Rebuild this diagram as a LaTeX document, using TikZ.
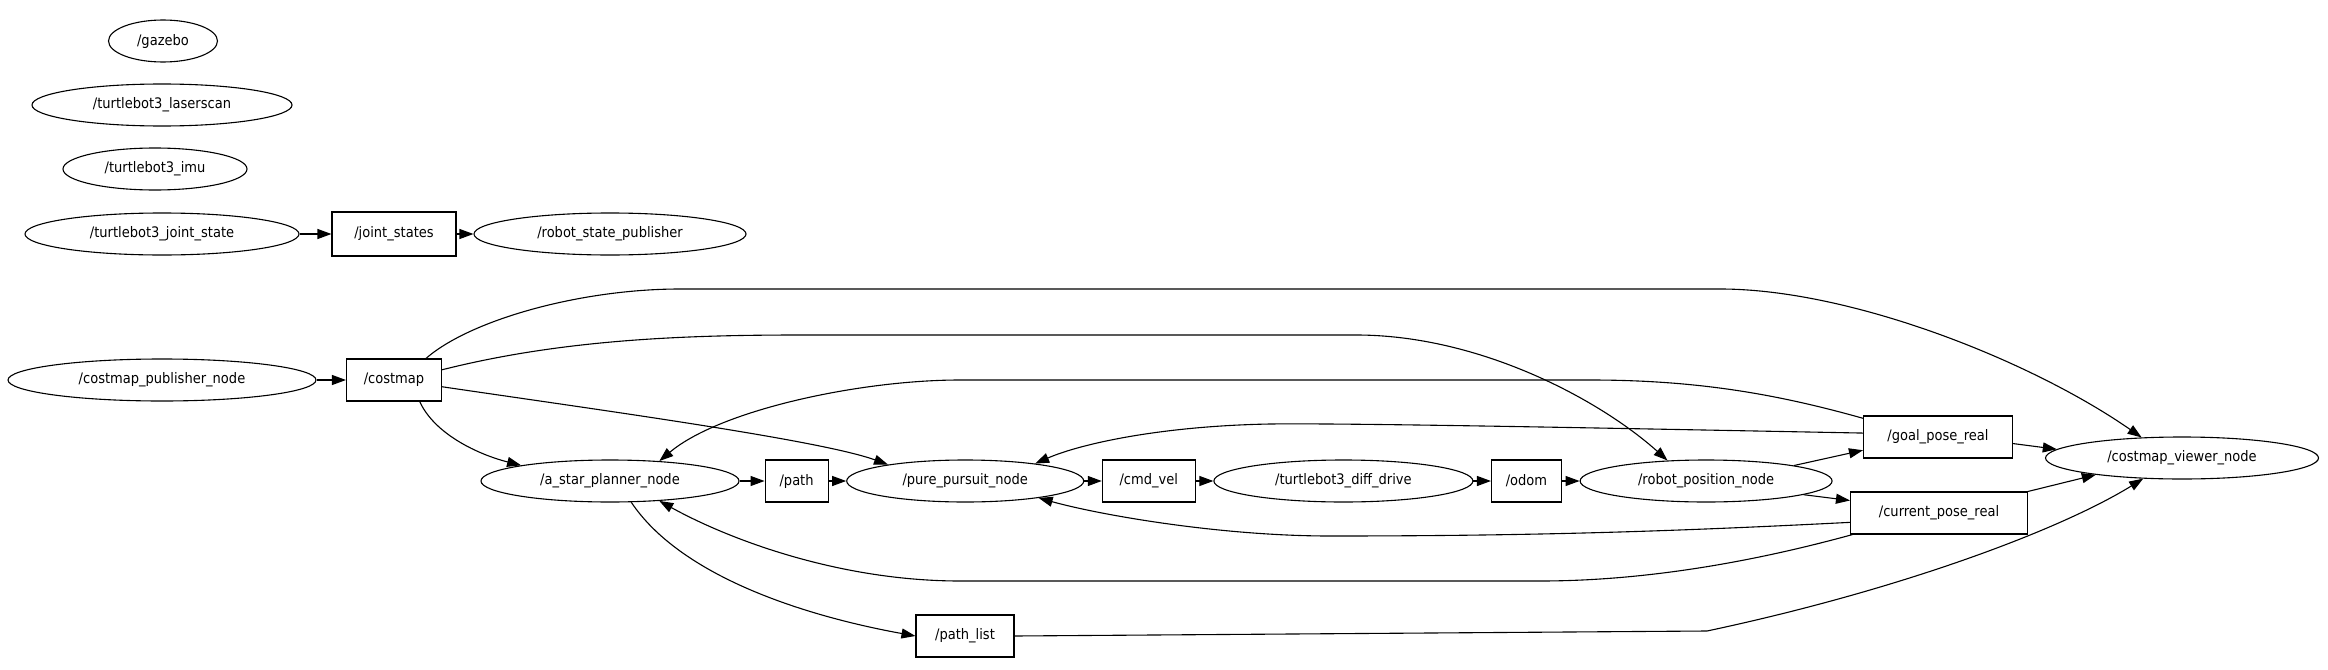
\documentclass[tikz,border=0pt]{standalone}
\usepackage{fontspec}
\setmainfont{DejaVu Sans Condensed}
\usetikzlibrary{arrows.meta, positioning, shapes.geometric}

\begin{document}
\begin{tikzpicture}[x=1pt, y=-1pt, >={Triangle[length=14pt, width=10pt]},
    node distance=17.5pt, line width=1.1pt,
    rosnode/.style={draw, ellipse, minimum height=42pt, inner sep=1pt,
                    font=\fontsize{14.5}{16}\selectfont},
    rostopic/.style={draw, rectangle, minimum height=42pt, inner sep=1pt,
                     font=\fontsize{14.5}{16}\selectfont}]
  \useasboundingbox (0,0) rectangle (2328,669);

  % unconnected nodes and the joint state chain
  \node[rosnode, minimum width=109pt] (gz) at (163,41) {/gazebo};
  \node[rosnode, minimum width=260pt] (ls) at (162,105) {/turtlebot3\_laserscan};
  \node[rosnode, minimum width=184pt] (imu) at (155,169) {/turtlebot3\_imu};
  \node[rosnode, minimum width=274pt] (js) at (162,234) {/turtlebot3\_joint\_state};
  \node[rostopic, minimum width=124pt, minimum height=44pt] (jst) at (394,234) {/joint\_states};
  \node[rosnode, minimum width=272pt] (rsp) at (610,234) {/robot\_state\_publisher};

  % costmap source
  \node[rosnode, minimum width=308pt] (cpn) at (162,380) {/costmap\_publisher\_node};
  \node[rostopic, minimum width=95pt] (cm) at (394,380) {/costmap};

  % main row
  \node[rosnode, minimum width=258pt] (asp) at (610,481) {/a\_star\_planner\_node};
  \node[rostopic, minimum width=63pt, right=25pt of asp] (pth) {/path};
  \node[rosnode, minimum width=237pt, right=of pth] (pp) {/pure\_pursuit\_node};
  \node[rostopic, minimum width=93pt, right=of pp] (cv) {/cmd\_vel};
  \node[rosnode, minimum width=259pt, right=of cv] (dd) {/turtlebot3\_diff\_drive};
  \node[rostopic, minimum width=70pt, right=of dd] (od) {/odom};
  \node[rosnode, minimum width=252pt, right=of od] (rp) {/robot\_position\_node};

  % pose topics and viewer
  \node[rostopic, minimum width=149pt] (gp) at (1938,437) {/goal\_pose\_real};
  \node[rostopic, minimum width=177pt] (cp) at (1939,513) {/current\_pose\_real};
  \node[rosnode, minimum width=273pt] (cvn) at (2182,458) {/costmap\_viewer\_node};
  \node[rostopic, minimum width=98pt] (pl) at (965,636) {/path\_list};

  \draw[->] (js) -- (jst);
  \draw[->] (jst) -- (rsp);
  \draw[->] (cpn) -- (cm);

  \draw[->] (asp) -- (pth);
  \draw[->] (pth) -- (pp);
  \draw[->] (pp) -- (cv);
  \draw[->] (cv) -- (dd);
  \draw[->] (dd) -- (od);
  \draw[->] (od) -- (rp);

  % costmap subscribers
  \draw[->] (cm.34) .. controls (470,320) and (580,289) .. (680,289)
    -- (1720,289) .. controls (1850,289) and (2030,360) .. (cvn.153);
  \draw[->] (cm.12) .. controls (560,340) and (680,335) .. (800,335)
    -- (1356,335) .. controls (1480,335) and (1600,400) .. (rp.152);
  \draw[->] (cm.-8) .. controls (600,410) and (820,440) .. (pp.168);
  \draw[->] (cm.-40) .. controls (435,435) and (480,455) .. (asp.170);

  % pose feedback
  \draw[->] (gp.166) .. controls (1780,395) and (1700,380) .. (1590,380)
    -- (960,380) .. controls (860,380) and (720,410) .. (asp.22);
  \draw[->] (gp.177) .. controls (1600,428) and (1350,423) .. (1270,424)
    .. controls (1160,426) and (1080,444) .. (pp.14);
  \draw[->] (cp.186) .. controls (1680,531) and (1540,536) .. (1330,536)
    .. controls (1220,536) and (1100,515) .. (pp.-13);
  \draw[->] (cp.194) .. controls (1760,560) and (1650,581) .. (1540,581)
    -- (960,581) .. controls (840,581) and (730,540) .. (asp.-22);

  \draw[->] (rp.10) -- (gp.190);
  \draw[->] (rp.-8) -- (cp.172);
  \draw[->] (gp.-5) -- (cvn.176);
  \draw[->] (cp.north east) -- (cvn.191);

  % path list
  \draw[->] (asp.-45) .. controls (680,575) and (800,615) .. (pl.west);
  \draw[->] (pl.east) -- (1707,631) .. controls (1900,590) and (2060,530) .. (cvn.208);
\end{tikzpicture}
\end{document}
